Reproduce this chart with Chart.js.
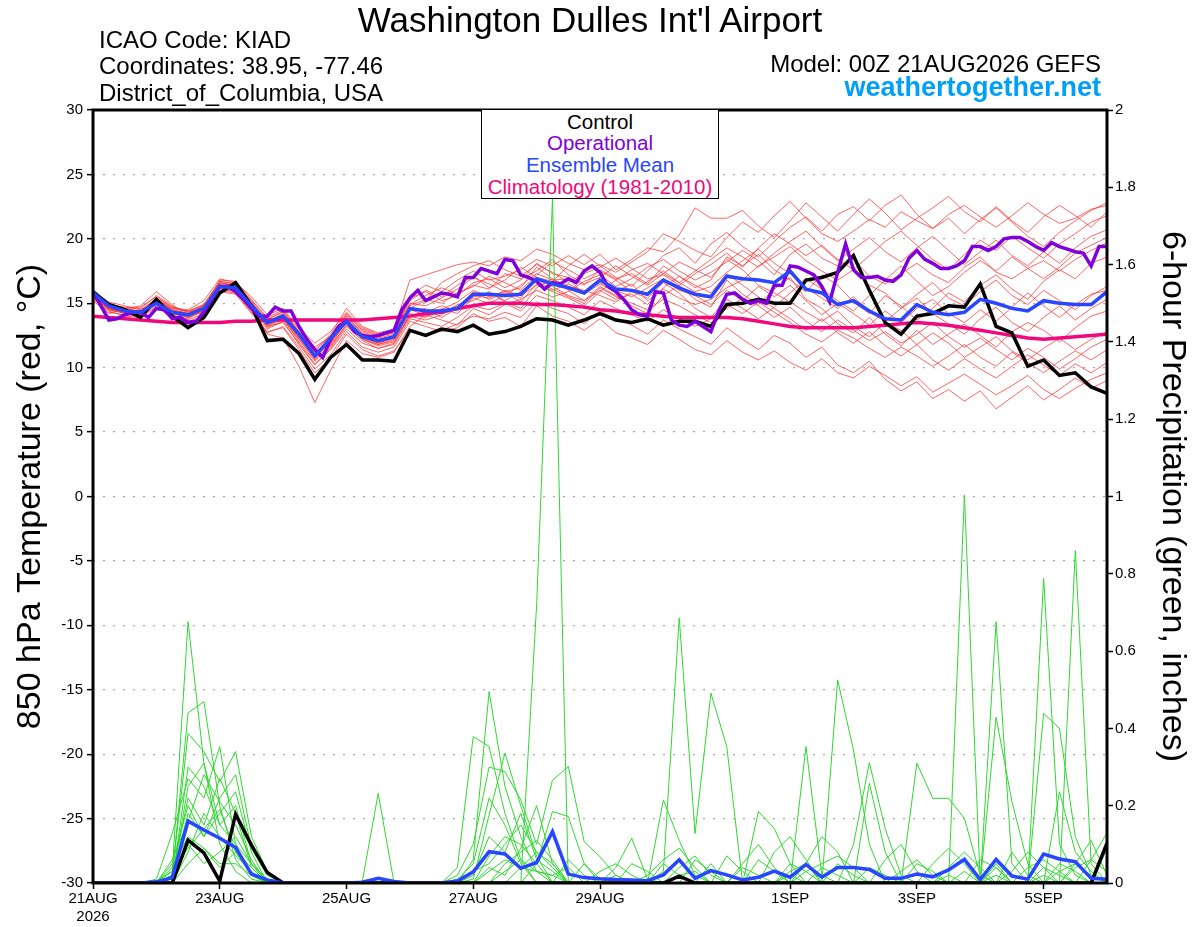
<!DOCTYPE html>
<html>
<head>
<meta charset="utf-8">
<title>KIAD GEFS plume</title>
<script src="https://cdn.jsdelivr.net/npm/chart.js@4.4.1/dist/chart.umd.min.js"></script>
<style>
  body { margin: 0; background: #fff; }
  #wrap { position: relative; width: 1200px; height: 927px; overflow: hidden; }
  #chart { position: absolute; left: 0; top: 0; }
  .txt { position: absolute; white-space: nowrap; line-height: 1;
         font-family: 'Liberation Sans', Arial, Helvetica, sans-serif; color: #000; }
  #legendBox { position: absolute; left: 481px; top: 109px; width: 238px; height: 90px;
               box-sizing: border-box; border: 1.5px solid #000; background: #fff; }
  .leg { left: 481px; width: 238px; text-align: center; font-size: 20.5px; }
  .info { left: 99px; font-size: 24px; }
</style>
</head>
<body>
<div id="wrap">
  <canvas id="chart" width="1200" height="927"></canvas>

  <div class="txt" style="left:0; width:1180px; text-align:center; top:1.5px; font-size:35px;">Washington Dulles Int'l Airport</div>
  <div class="txt info" style="top:27.5px;">ICAO Code: KIAD</div>
  <div class="txt info" style="top:54px;">Coordinates: 38.95, -77.46</div>
  <div class="txt info" style="top:80.5px;">District_of_Columbia, USA</div>
  <div class="txt" style="right:99px; top:52px; font-size:24px;">Model: 00Z 21AUG2026 GEFS</div>
  <div class="txt" style="right:99px; top:74px; font-size:27px; font-weight:bold; color:#00a0f8;">weathertogether.net</div>

  <div id="legendBox"></div>
  <div class="txt leg" style="top:111.5px; color:#000;">Control</div>
  <div class="txt leg" style="top:132.5px; color:#8000dc;">Operational</div>
  <div class="txt leg" style="top:154.5px; color:#2845ff;">Ensemble Mean</div>
  <div class="txt leg" style="top:176.5px; color:#f0087c;">Climatology (1981-2010)</div>
</div>

<script>
'use strict';

// ── x axis: forecast hours from 00Z 21AUG2026 ────────────────────────────
var xTickHours  = [0, 48, 96, 144, 192, 264, 312, 360];
var xTickLabels = [['21AUG', '2026'], '23AUG', '25AUG', '27AUG', '29AUG', '1SEP', '3SEP', '5SEP'];

// ── 850 hPa temperature (°C), 6-hourly unless noted ──────────────────────
var ctrlTemp = [
  15.9, 14.9, 14.5, 13.9, 15.3, 14.0, 13.1, 13.9,
  15.8, 16.6, 14.8, 12.1, 12.2, 11.1,  9.1, 10.8,
  11.8, 10.6, 10.6, 10.5, 12.9, 12.5, 13.0, 12.8,
  13.3, 12.6, 12.8, 13.2, 13.8, 13.7, 13.3, 13.7,
  14.2, 13.7, 13.5, 13.8, 13.3, 13.6, 13.6, 13.2,
  14.9, 15.0, 15.3, 15.0, 15.0, 16.8, 17.0, 17.4,
  18.7, 16.0, 13.5, 12.6, 14.0, 14.2, 14.8, 14.7,
  16.5, 13.2, 12.7, 10.1, 10.6,  9.4,  9.6,  8.5,
   8.0
];

var meanTemp = [
  15.8, 14.8, 14.4, 14.3, 15.0, 14.3, 14.1, 14.6,
  16.3, 16.2, 14.8, 13.5, 14.0, 12.6, 10.9, 12.3,
  13.6, 12.4, 12.1, 12.4, 14.6, 14.4, 14.4, 14.6,
  15.7, 15.7, 15.6, 15.7, 16.9, 16.5, 16.2, 15.8,
  16.8, 16.1, 16.0, 15.7, 16.8, 16.2, 15.7, 15.5,
  17.1, 16.9, 16.8, 16.6, 17.5, 16.1, 15.8, 14.9,
  15.2, 14.4, 13.8, 13.7, 14.9, 14.3, 14.1, 14.3,
  15.3, 15.0, 14.6, 14.4, 15.2, 15.0, 14.9, 14.9,
  15.9
];

// operational run is 3-hourly
var opTemp = [
  15.9, 14.8, 13.7, 13.8, 14.1, 14.3, 14.3, 13.9,
  14.6, 14.5, 13.8, 13.9, 13.5, 13.6, 14.3, 15.3,
  16.3, 16.3, 15.9, 15.3, 14.6, 14.0, 14.0, 14.7,
  14.4, 14.4, 13.2, 12.2, 11.4, 10.8, 12.2, 13.2,
  13.6, 12.8, 12.5, 12.4, 12.5, 12.7, 12.9, 14.5,
  15.4, 16.0, 15.2, 15.5, 15.8, 15.7, 15.5, 17.0,
  17.0, 17.7, 17.5, 17.3, 18.4, 18.3, 17.2, 17.0,
  16.7, 16.1, 16.6, 16.5, 16.9, 16.6, 17.5, 17.9,
  17.4, 16.3, 15.9, 15.3, 14.5, 14.1, 14.0, 15.9,
  15.8, 13.7, 13.3, 13.2, 13.6, 13.2, 12.8, 14.4,
  15.7, 15.8, 15.3, 15.0, 15.2, 15.0, 16.4, 16.4,
  17.9, 17.8, 17.5, 17.2, 16.3, 15.1, 17.4, 19.6,
  17.6, 17.0, 17.0, 17.1, 16.8, 16.7, 17.2, 18.5,
  19.1, 18.4, 18.1, 17.7, 17.7, 17.9, 18.3, 19.4,
  19.4, 19.1, 19.4, 20.0, 20.1, 20.1, 19.8, 19.4,
  19.1, 19.7, 19.4, 19.2, 19.0, 18.9, 17.9, 19.4,
  19.4
];

var climTemp = [
  14.0, 13.9, 13.8, 13.7, 13.6, 13.5, 13.5, 13.5,
  13.5, 13.6, 13.6, 13.7, 13.7, 13.7, 13.7, 13.7,
  13.7, 13.7, 13.8, 13.9, 14.0, 14.2, 14.3, 14.6,
  14.8, 15.0, 15.0, 15.0, 14.9, 14.9, 14.8, 14.7,
  14.5, 14.4, 14.2, 14.1, 14.0, 13.9, 13.9, 13.9,
  13.9, 13.8, 13.6, 13.4, 13.2, 13.1, 13.1, 13.1,
  13.1, 13.2, 13.3, 13.4, 13.5, 13.4, 13.3, 13.1,
  12.9, 12.7, 12.5, 12.3, 12.2, 12.3, 12.4, 12.5,
  12.6
];

// ensemble members, temperature
var tempMem01 = [
  15.8, 14.9, 14.7, 14.6, 15.6, 14.8, 14.3, 14.9,
  16.7, 16.5, 15.2, 13.9, 14.5, 12.8, 11.4, 12.6,
  14.6, 13.2, 12.7, 13.0, 16.8, 17.2, 17.6, 18.0,
  18.2, 17.9, 18.6, 18.3, 19.2, 18.8, 18.1, 17.6,
  18.0, 17.4, 18.2, 19.0, 20.4, 19.8, 19.1, 18.6,
  20.1, 21.3, 20.5, 21.8, 22.9, 21.6, 20.4, 19.8,
  20.6, 21.5, 20.9, 22.1, 21.4, 20.8, 21.9, 22.6,
  21.7, 20.9, 21.8, 22.8, 21.9, 21.2, 21.6, 22.3,
  22.6
];
var tempMem02 = [
  15.4, 14.3, 14.1, 14.0, 14.8, 14.1, 13.7, 14.2,
  16.0, 15.8, 14.4, 12.7, 13.2, 11.6,  9.9, 11.0,
  12.8, 11.6, 11.2, 11.6, 13.6, 13.2, 12.8, 13.1,
  14.2, 13.6, 13.9, 13.2, 14.8, 14.0, 13.6, 12.9,
  13.8, 12.7, 12.3, 11.8, 12.9, 12.2, 11.4, 11.0,
  12.1, 11.2, 10.6, 11.3, 10.4,  9.8, 10.7,  9.6,
   9.2, 10.1,  9.4,  8.6,  9.3,  8.1,  8.8,  9.5,
   8.7,  7.9,  8.6,  9.4,  8.3,  7.6,  8.4,  9.1,
   9.6
];
var tempMem03 = [
  15.9, 15.1, 14.8, 14.5, 15.0, 14.6, 14.5, 15.2,
  16.9, 16.6, 15.5, 14.1, 14.6, 13.0, 11.9, 12.8,
  14.3, 13.1, 12.6, 12.9, 15.4, 15.9, 15.2, 15.6,
  16.6, 16.9, 16.2, 16.8, 18.1, 17.3, 17.0, 16.4,
  17.6, 16.9, 17.3, 16.5, 17.9, 17.1, 16.2, 16.8,
  18.6, 17.9, 18.8, 17.6, 16.8, 15.9, 17.2, 16.4,
  15.1, 14.2, 15.6, 14.8, 13.7, 14.6, 15.8, 15.1,
  16.4, 17.2, 16.1, 15.3, 16.7, 17.6, 16.9, 18.1,
  18.6
];
var tempMem04 = [
  15.2, 14.2, 14.6, 14.8, 15.9, 14.9, 14.0, 14.3,
  16.1, 15.9, 14.3, 13.0, 13.6, 11.8, 10.2, 11.5,
  13.2, 12.1, 11.5, 11.9, 14.0, 13.7, 14.1, 14.9,
  15.2, 15.9, 15.1, 14.6, 16.2, 16.9, 16.0, 15.2,
  16.3, 15.6, 14.8, 14.2, 15.6, 16.4, 15.3, 14.7,
  16.8, 15.7, 14.9, 16.1, 17.0, 15.3, 14.6, 13.4,
  12.7, 13.9, 12.6, 11.7, 12.9, 11.8, 12.6, 13.4,
  12.5, 11.6, 12.8, 13.5, 12.9, 12.0, 13.1, 14.0,
  14.4
];
var tempMem05 = [
  15.7, 14.5, 14.2, 14.1, 15.1, 14.2, 13.9, 14.4,
  16.5, 16.0, 14.6, 12.6, 12.3, 10.1,  7.3,  9.8,
  12.1, 11.1, 10.8, 11.2, 13.2, 14.1, 13.7, 13.3,
  14.6, 14.1, 14.9, 15.3, 16.0, 15.5, 15.9, 16.7,
  17.2, 16.3, 16.9, 17.8, 18.4, 17.5, 16.8, 17.4,
  18.2, 19.1, 18.3, 17.2, 18.8, 19.6, 18.5, 17.9,
  18.4, 17.1, 16.5, 17.3, 18.1, 17.2, 16.6, 17.8,
  18.6, 17.4, 16.9, 17.7, 18.3, 17.5, 18.4, 19.1,
  19.7
];
var tempMem06 = [
  16.0, 14.8, 14.4, 14.2, 15.4, 14.5, 14.2, 14.7,
  16.6, 16.4, 15.1, 13.5, 14.0, 12.5, 11.2, 12.2,
  13.9, 12.8, 12.3, 12.6, 14.9, 15.6, 16.2, 15.7,
  16.4, 16.1, 17.3, 16.9, 17.5, 18.4, 17.2, 16.5,
  17.0, 17.9, 17.1, 16.4, 17.3, 18.2, 17.6, 17.0,
  18.4, 17.6, 16.4, 15.8, 15.1, 14.3, 13.6, 14.4,
  13.2, 12.4, 13.5, 12.9, 11.8, 12.7, 11.9, 10.8,
  11.6, 12.4, 11.3, 10.6, 11.5, 12.3, 11.4, 12.2,
  12.8
];
var tempMem07 = [
  15.5, 14.6, 14.3, 14.4, 14.9, 14.0, 13.8, 14.5,
  16.3, 16.3, 14.8, 13.3, 13.8, 12.0, 10.5, 11.6,
  13.4, 12.3, 11.8, 12.2, 14.2, 13.9, 14.6, 14.2,
  15.4, 15.0, 15.6, 16.4, 17.3, 16.8, 16.9, 15.7,
  16.5, 15.9, 16.5, 15.2, 16.1, 15.4, 14.9, 15.3,
  16.2, 16.8, 17.9, 18.6, 19.4, 18.3, 17.5, 16.8,
  17.6, 16.4, 15.8, 14.6, 15.7, 16.6, 15.4, 14.8,
  15.9, 16.8, 15.6, 14.9, 16.0, 15.2, 14.5, 15.6,
  16.3
];
var tempMem08 = [
  15.6, 14.7, 14.5, 14.2, 15.3, 14.6, 14.4, 14.8,
  16.2, 16.1, 15.0, 13.6, 14.2, 12.6, 11.0, 12.1,
  13.8, 12.7, 12.2, 12.4, 15.6, 16.4, 15.9, 16.8,
  17.5, 16.8, 17.1, 17.6, 18.4, 17.9, 18.7, 18.0,
  18.8, 17.6, 18.4, 19.3, 19.0, 20.3, 22.4, 21.6,
  21.6, 22.2, 21.0, 20.1, 21.4, 22.8, 21.7, 20.6,
  21.9, 23.1, 22.0, 20.7, 21.6, 22.4, 23.3, 22.1,
  21.3, 22.5, 21.4, 20.5, 21.7, 22.6, 21.8, 20.9,
  22.1
];
var tempMem09 = [
  15.3, 14.4, 14.0, 13.9, 14.7, 13.9, 13.6, 14.0,
  15.9, 15.7, 14.2, 12.8, 13.1, 11.4,  9.6, 10.7,
  12.6, 11.4, 10.9, 11.3, 12.9, 12.5, 12.9, 13.4,
  14.0, 13.8, 14.3, 13.9, 15.1, 14.6, 14.2, 13.4,
  14.4, 13.8, 13.3, 12.6, 13.7, 13.0, 12.4, 11.8,
  13.1, 12.2, 11.4, 12.5, 11.9, 10.8, 11.6, 10.2,
   9.6, 10.5,  9.1,  8.2,  8.9,  7.6,  8.3,  7.4,
   8.2,  6.8,  7.7,  8.6,  7.5,  8.3,  9.2,  8.4,
   9.0
];
var tempMem10 = [
  15.8, 14.9, 14.6, 14.3, 15.0, 14.3, 14.0, 14.6,
  16.8, 16.7, 15.3, 13.8, 14.3, 12.8, 11.6, 12.4,
  14.1, 12.9, 12.4, 12.7, 15.0, 14.8, 15.4, 16.1,
  17.0, 16.5, 15.9, 16.2, 17.8, 16.9, 16.3, 16.0,
  15.6, 15.1, 15.9, 15.4, 16.6, 15.8, 14.6, 13.9,
  15.3, 14.6, 13.8, 14.7, 15.8, 16.9, 16.1, 15.2,
  14.4, 15.6, 16.8, 17.9, 16.7, 15.6, 16.3, 17.4,
  18.3, 17.5, 18.6, 17.7, 16.9, 17.8, 18.9, 19.5,
  20.1
];
var tempMem11 = [
  15.6, 14.6, 14.5, 14.7, 15.5, 14.7, 14.3, 14.7,
  16.4, 16.2, 14.7, 13.1, 13.7, 12.2, 10.6, 11.8,
  13.6, 12.4, 11.9, 12.3, 14.4, 14.6, 13.9, 14.6,
  15.9, 15.3, 15.8, 15.1, 16.5, 15.9, 15.4, 14.8,
  15.9, 16.8, 15.9, 16.7, 17.5, 16.6, 15.9, 16.3,
  17.4, 18.3, 19.2, 18.1, 17.3, 16.2, 15.4, 14.6,
  15.5, 14.3, 13.6, 14.6, 15.4, 14.2, 13.4, 12.6,
  13.8, 14.7, 13.5, 12.8, 13.9, 14.8, 13.7, 14.6,
  15.3
];
var tempMem12 = [
  15.7, 14.7, 14.3, 14.5, 15.3, 14.4, 14.1, 14.6,
  16.5, 16.4, 14.9, 13.5, 14.1, 12.4, 11.1, 12.2,
  14.0, 12.6, 12.1, 12.5, 14.6, 15.2, 16.6, 17.3,
  17.9, 18.3, 17.6, 17.1, 18.0, 17.4, 16.6, 17.3,
  17.8, 18.5, 17.7, 16.9, 17.2, 16.4, 17.3, 18.0,
  18.9, 17.8, 19.3, 20.4, 19.6, 18.7, 19.5, 18.4,
  17.6, 18.7, 19.8, 20.6, 19.5, 18.4, 17.6, 18.8,
  19.9, 19.1, 20.2, 19.3, 18.5, 19.6, 20.4, 21.3,
  21.8
];
var tempMem13 = [
  15.4, 14.5, 14.4, 14.1, 15.2, 14.4, 14.2, 14.5,
  16.3, 15.9, 14.5, 13.2, 13.5, 11.9, 10.3, 11.4,
  13.0, 11.9, 11.5, 11.8, 13.8, 13.5, 13.2, 13.9,
  14.8, 14.5, 15.0, 14.4, 15.6, 15.2, 14.7, 14.1,
  15.2, 14.6, 14.1, 13.6, 14.5, 13.8, 13.2, 13.8,
  14.9, 14.2, 15.1, 14.3, 13.5, 12.6, 12.0, 12.9,
  12.3, 11.5, 10.8, 11.6, 10.9, 10.1, 10.9, 11.8,
  10.8, 10.1, 11.2, 10.4,  9.6, 10.5, 11.3, 10.6,
  11.4
];
var tempMem14 = [
  15.9, 14.8, 14.6, 14.4, 15.4, 14.7, 14.4, 14.9,
  16.7, 16.5, 15.1, 13.7, 14.4, 12.7, 11.3, 12.5,
  14.2, 13.0, 12.5, 12.8, 15.2, 16.0, 15.5, 16.4,
  17.1, 16.2, 16.8, 17.8, 17.0, 16.7, 17.9, 18.8,
  17.9, 17.0, 16.3, 17.5, 18.7, 19.3, 18.1, 19.6,
  20.5, 19.4, 18.6, 19.8, 20.9, 21.7, 20.6, 21.9,
  22.5, 21.4, 22.6, 23.4, 21.9, 20.8, 21.6, 20.4,
  21.5, 22.4, 21.3, 20.2, 19.4, 20.5, 21.4, 22.2,
  22.8
];
var tempMem15 = [
  15.6, 14.6, 14.2, 14.0, 15.1, 14.3, 14.0, 14.7,
  16.4, 16.0, 14.6, 13.2, 13.9, 12.3, 10.8, 11.9,
  13.5, 12.2, 11.8, 12.1, 14.0, 14.3, 14.8, 14.4,
  15.5, 15.8, 15.2, 15.9, 16.7, 16.1, 15.5, 15.0,
  16.2, 15.5, 15.0, 14.5, 15.3, 14.8, 14.1, 13.5,
  14.6, 15.4, 14.8, 13.9, 14.7, 13.6, 12.8, 13.7,
  12.9, 12.1, 12.8, 11.9, 12.6, 13.5, 12.4, 11.6,
  12.3, 11.4, 10.6, 11.5, 10.8,  9.9, 10.7, 11.6,
  12.2
];
var tempMem16 = [
  15.8, 14.8, 14.5, 14.4, 15.2, 14.5, 14.2, 14.8,
  16.6, 16.3, 15.0, 13.6, 14.1, 12.6, 11.0, 12.0,
  13.7, 12.5, 12.0, 12.4, 14.8, 15.3, 15.0, 15.8,
  16.3, 17.1, 16.6, 16.0, 17.2, 18.2, 17.6, 16.9,
  17.5, 16.8, 17.6, 18.1, 17.3, 16.6, 17.5, 18.4,
  19.3, 18.6, 17.8, 18.9, 19.8, 20.6, 19.4, 18.3,
  19.2, 20.1, 19.0, 18.2, 19.3, 20.2, 19.1, 18.0,
  19.0, 19.9, 18.7, 17.9, 19.0, 18.1, 19.3, 20.2,
  20.7
];
var tempMem17 = [
  15.5, 14.5, 14.3, 14.3, 15.0, 14.2, 13.9, 14.4,
  16.2, 16.1, 14.7, 13.3, 13.8, 12.2, 10.7, 11.7,
  13.3, 12.2, 11.7, 12.0, 14.1, 14.0, 14.3, 14.8,
  15.6, 15.4, 16.0, 15.6, 16.4, 16.0, 16.5, 15.9,
  16.6, 16.0, 15.5, 16.2, 16.9, 16.0, 15.6, 14.9,
  16.0, 15.2, 16.3, 15.5, 16.4, 15.2, 14.1, 15.0,
  14.2, 13.3, 14.4, 13.5, 14.6, 15.3, 14.2, 13.5,
  14.5, 13.6, 14.7, 15.8, 14.8, 13.9, 14.9, 15.7,
  16.0
];
var tempMem18 = [
  15.7, 14.7, 14.4, 14.2, 15.2, 14.4, 14.1, 14.6,
  16.4, 16.2, 14.8, 13.4, 13.9, 12.4, 10.9, 12.0,
  13.6, 12.4, 11.9, 12.3, 14.5, 14.1, 14.5, 15.1,
  16.0, 15.5, 15.9, 15.4, 16.9, 16.3, 15.6, 15.2,
  16.0, 15.3, 15.7, 14.9, 16.2, 17.1, 16.4, 15.8,
  17.3, 16.4, 15.5, 14.6, 13.8, 12.9, 13.8, 12.7,
  11.9, 12.8, 11.7, 10.9, 11.8, 10.6,  9.8, 10.7,
   9.9,  9.2, 10.1, 11.0, 10.2,  9.4, 10.3,  9.6,
  10.4
];

// ── 6-hour precipitation (inches) ────────────────────────────────────────
var ctrlPrecip = [
  0, 0, 0, 0, 0, 0, 0.111, 0.078,
  0.005, 0.178, 0.098, 0.027, 0, 0, 0, 0,
  0, 0, 0, 0, 0, 0, 0, 0,
  0, 0, 0, 0, 0, 0, 0, 0,
  0, 0, 0, 0, 0, 0.018, 0, 0,
  0, 0, 0, 0, 0, 0, 0, 0,
  0, 0, 0, 0, 0, 0, 0, 0,
  0, 0, 0, 0, 0, 0, 0, 0,
  0.103
];

var meanPrecip = [
  0, 0, 0, 0, 0.003, 0.014, 0.160, 0.137,
  0.116, 0.092, 0.023, 0.008, 0, 0, 0, 0,
  0, 0.002, 0.012, 0.004, 0, 0, 0, 0.005,
  0.029, 0.081, 0.075, 0.038, 0.053, 0.133, 0.023, 0.014,
  0.011, 0.009, 0.008, 0.006, 0.021, 0.060, 0.012, 0.032,
  0.021, 0.008, 0.015, 0.031, 0.015, 0.048, 0.015, 0.040,
  0.040, 0.035, 0.012, 0.012, 0.023, 0.016, 0.034, 0.061,
  0.009, 0.061, 0.018, 0.010, 0.075, 0.062, 0.055, 0.012,
  0.010
];

// ensemble members, precipitation
var precMem01 = [
  0, 0, 0, 0, 0, 0.03, 0.676, 0.31,
  0.10, 0.03, 0, 0, 0, 0, 0, 0,
  0, 0, 0, 0, 0, 0, 0, 0,
  0, 0, 0, 0, 0.72, 1.77, 0, 0,
  0, 0, 0, 0, 0, 0.02, 0.03, 0,
  0, 0, 0, 0, 0.02, 0, 0, 0,
  0, 0, 0, 0, 0.05, 0.03, 0, 0,
  0, 0, 0, 0, 0.04, 0.02, 0, 0,
  0
];
var precMem02 = [
  0, 0, 0, 0, 0, 0.02, 0.44, 0.469,
  0.20, 0.06, 0.01, 0, 0, 0, 0, 0,
  0, 0.005, 0.232, 0, 0, 0, 0, 0,
  0.06, 0.495, 0.25, 0.12, 0.03, 0, 0, 0,
  0, 0, 0, 0, 0.03, 0.686, 0.128, 0.491,
  0.353, 0, 0, 0, 0, 0, 0, 0.05,
  0.02, 0, 0, 0, 0, 0, 0, 0,
  0, 0.04, 0, 0, 0, 0, 0, 0,
  0
];
var precMem03 = [
  0, 0, 0, 0, 0.01, 0.128, 0.27, 0.22,
  0.353, 0.10, 0.02, 0, 0, 0, 0, 0,
  0, 0, 0, 0, 0, 0, 0, 0.04,
  0.379, 0.353, 0.18, 0.06, 0, 0, 0, 0.05,
  0.01, 0, 0, 0, 0, 0, 0, 0,
  0, 0, 0.185, 0.141, 0.05, 0, 0, 0,
  0, 0, 0, 0, 0, 0, 0, 1.004,
  0, 0.05, 0, 0, 0, 0, 0.05, 0.11,
  0.02
];
var precMem04 = [
  0, 0, 0, 0, 0, 0.02, 0.387, 0.34,
  0.262, 0.34, 0.12, 0.03, 0, 0, 0, 0,
  0, 0, 0, 0, 0, 0, 0, 0,
  0.01, 0.176, 0.336, 0.20, 0.07, 0, 0, 0,
  0, 0.04, 0.116, 0.01, 0, 0, 0, 0,
  0, 0, 0, 0, 0, 0.353, 0.02, 0,
  0, 0, 0, 0, 0, 0, 0, 0,
  0, 0.676, 0.05, 0, 0, 0, 0.86, 0.05,
  0
];
var precMem05 = [
  0, 0, 0, 0, 0, 0.05, 0.20, 0.12,
  0.18, 0.236, 0.08, 0, 0, 0, 0, 0,
  0, 0, 0, 0, 0, 0, 0, 0.02,
  0.10, 0.30, 0.288, 0.215, 0.10, 0.266, 0.301, 0.107,
  0.068, 0.02, 0, 0, 0, 0, 0, 0.05,
  0, 0, 0, 0, 0, 0, 0, 0.525,
  0.344, 0.10, 0, 0, 0, 0, 0, 0,
  0, 0, 0, 0, 0.788, 0.10, 0.02, 0,
  0
];
var precMem06 = [
  0, 0, 0, 0, 0, 0, 0.30, 0.25,
  0.15, 0.10, 0.05, 0, 0, 0, 0, 0,
  0, 0, 0, 0, 0, 0, 0, 0,
  0, 0, 0, 0, 0.05, 0.185, 0.172, 0.05,
  0, 0, 0, 0, 0.215, 0.11, 0.02, 0,
  0, 0, 0, 0, 0, 0, 0, 0,
  0.10, 0.311, 0.141, 0.02, 0, 0, 0, 0,
  0, 0.429, 0.21, 0.05, 0, 0, 0, 0,
  0.09
];
var precMem07 = [
  0, 0, 0, 0, 0, 0.06, 0.16, 0.28,
  0.21, 0.15, 0.06, 0, 0, 0, 0, 0,
  0, 0, 0, 0, 0, 0, 0, 0,
  0, 0.07, 0.12, 0.10, 0.05, 0, 0, 0,
  0, 0, 0.05, 0.03, 0, 0, 0, 0,
  0, 0, 0, 0, 0, 0, 0, 0,
  0, 0.258, 0.08, 0, 0.31, 0.219, 0.219, 0.167,
  0.02, 0, 0, 0, 0.439, 0.40, 0.12, 0.02,
  0
];
var precMem08 = [
  0, 0.004, 0, 0, 0, 0, 0.10, 0.05,
  0.08, 0.12, 0.05, 0, 0, 0, 0, 0,
  0, 0, 0, 0, 0, 0, 0, 0,
  0.03, 0.05, 0.10, 0.15, 0.08, 0.05, 0, 0,
  0, 0, 0, 0, 0, 0, 0, 0,
  0.07, 0.03, 0, 0, 0, 0.05, 0.12, 0.08,
  0, 0, 0, 0, 0, 0, 0, 0,
  0, 0, 0, 0, 0, 0.236, 0.08, 0.03,
  0
];
var precMem09 = [
  0, 0, 0, 0, 0, 0.02, 0.22, 0.15,
  0.27, 0.18, 0.04, 0, 0, 0, 0, 0,
  0, 0, 0, 0, 0, 0, 0, 0,
  0, 0, 0.05, 0.08, 0.11, 0.06, 0, 0,
  0, 0, 0, 0, 0, 0, 0.06, 0.03,
  0, 0, 0, 0.08, 0.12, 0.06, 0, 0,
  0, 0, 0, 0, 0, 0, 0.04, 0.08,
  0.04, 0, 0, 0, 0, 0, 0, 0.06,
  0.13
];
var precMem10 = [
  0, 0, 0, 0, 0, 0, 0.08, 0.18,
  0.12, 0.07, 0.03, 0, 0, 0, 0, 0,
  0, 0, 0, 0, 0, 0, 0, 0.01,
  0.05, 0.22, 0.15, 0.05, 0, 0, 0.06, 0.02,
  0, 0, 0, 0, 0, 0, 0, 0,
  0, 0.04, 0.02, 0, 0, 0, 0, 0,
  0, 0, 0.06, 0.10, 0.03, 0, 0, 0,
  0, 0, 0.08, 0.02, 0, 0, 0, 0,
  0
];
var precMem11 = [
  0, 0, 0, 0, 0, 0.04, 0.12, 0.09,
  0.05, 0.05, 0.02, 0, 0, 0, 0, 0,
  0, 0, 0, 0, 0, 0, 0, 0,
  0, 0, 0, 0.04, 0.08, 0.04, 0, 0,
  0, 0, 0, 0.02, 0.06, 0.09, 0.04, 0,
  0, 0, 0, 0, 0, 0.03, 0.05, 0.07,
  0.04, 0, 0, 0, 0, 0, 0, 0,
  0.06, 0.04, 0, 0, 0, 0.05, 0.03, 0,
  0
];
var precMem12 = [
  0, 0, 0, 0, 0, 0, 0.05, 0.09,
  0.04, 0.08, 0.04, 0, 0, 0, 0, 0,
  0, 0, 0, 0, 0, 0, 0, 0,
  0, 0.03, 0.06, 0.04, 0.03, 0.02, 0, 0,
  0.03, 0.05, 0.02, 0, 0, 0, 0, 0,
  0, 0, 0, 0, 0.05, 0.03, 0, 0,
  0, 0, 0, 0, 0, 0.05, 0.09, 0.05,
  0, 0, 0, 0.04, 0.06, 0.03, 0, 0,
  0
];
var precMem13 = [
  0, 0, 0, 0, 0.005, 0.03, 0.09, 0.14,
  0.19, 0.08, 0.02, 0, 0, 0, 0, 0,
  0, 0, 0, 0, 0, 0, 0, 0,
  0.02, 0.12, 0.08, 0.18, 0.06, 0.03, 0, 0,
  0, 0, 0, 0, 0, 0.04, 0.07, 0.02,
  0, 0, 0.06, 0.03, 0, 0, 0.04, 0.02,
  0, 0, 0, 0, 0, 0, 0, 0.03,
  0, 0, 0, 0, 0.02, 0, 0.04, 0.06,
  0.03
];
var precMem14 = [
  0, 0, 0, 0, 0, 0.01, 0.25, 0.31,
  0.15, 0.20, 0.05, 0.01, 0, 0, 0, 0,
  0, 0, 0, 0, 0, 0, 0, 0,
  0, 0.04, 0.02, 0.09, 0.20, 0.05, 0, 0,
  0, 0.02, 0, 0, 0, 0, 0, 0,
  0, 0.05, 0.10, 0.04, 0, 0, 0, 0,
  0, 0.04, 0.02, 0, 0, 0, 0.02, 0,
  0, 0, 0.03, 0.08, 0.04, 0, 0, 0,
  0
];
var precMem15 = [
  0, 0, 0, 0, 0, 0.02, 0.18, 0.12,
  0.22, 0.28, 0.09, 0.02, 0, 0, 0, 0,
  0, 0, 0, 0, 0, 0, 0, 0,
  0, 0, 0.03, 0.06, 0.03, 0.02, 0.04, 0,
  0, 0, 0, 0, 0.05, 0.02, 0, 0,
  0, 0, 0, 0, 0.03, 0.05, 0, 0,
  0, 0, 0, 0.03, 0.06, 0.02, 0, 0,
  0, 0.02, 0, 0, 0, 0.03, 0.05, 0.02,
  0
];

var tempMembers = [tempMem01, tempMem02, tempMem03, tempMem04, tempMem05, tempMem06,
                   tempMem07, tempMem08, tempMem09, tempMem10, tempMem11, tempMem12,
                   tempMem13, tempMem14, tempMem15, tempMem16, tempMem17, tempMem18];
var precMembers = [precMem01, precMem02, precMem03, precMem04, precMem05,
                   precMem06, precMem07, precMem08, precMem09, precMem10,
                   precMem11, precMem12, precMem13, precMem14, precMem15];

( function () {
    if ( typeof Chart === 'undefined' ) {
        return;
    }

    var FONT = "'Liberation Sans', Arial, Helvetica, sans-serif";
    Chart.defaults.font.family = FONT;
    Chart.defaults.color = '#000';

    // values -> {x: hour, y: value}
    function series( values, stepHours ) {
        return values.map( function ( v, i ) { return { x: i * stepHours, y: v }; } );
    }

    function line( values, stepHours, color, width, axis ) {
        return {
            data:        series( values, stepHours ),
            borderColor: color,
            borderWidth: width,
            yAxisID:     axis,
            pointRadius: 0,
            tension:     0,
            fill:        false,
        };
    }

    // first dataset is drawn on top
    var datasets = [
        line( meanTemp,   6, '#2845ff', 3.5, 'y' ),
        line( opTemp,     3, '#8000dc', 3.5, 'y' ),
        line( ctrlTemp,   6, '#000000', 3.5, 'y' ),
        line( meanPrecip, 6, '#2845ff', 3.5, 'y2' ),
        line( ctrlPrecip, 6, '#000000', 3.5, 'y2' ),
        line( climTemp,   6, '#f0087c', 3.5, 'y' ),
    ];
    precMembers.forEach( function ( m ) {
        datasets.push( line( m, 6, '#2fd82f', 1, 'y2' ) );
    } );
    tempMembers.forEach( function ( m ) {
        datasets.push( line( m, 6, 'rgba(255,50,50,0.75)', 1, 'y' ) );
    } );

    /* ── frame round the plot area ─────────────────────────────────────── */
    var frame = {
        id: 'frame',
        afterDatasetsDraw: function ( chart ) {
            var a = chart.chartArea, ctx = chart.ctx;
            ctx.save();
            ctx.strokeStyle = '#000';
            ctx.lineWidth = 3;
            ctx.strokeRect( a.left, a.top, a.right - a.left, a.bottom - a.top );
            ctx.restore();
        },
    };

    var tickFont = { size: 15 };

    new Chart( document.getElementById( 'chart' ), {
        type: 'line',
        data: { datasets: datasets },
        plugins: [ frame ],
        options: {
            responsive:       false,
            animation:        false,
            devicePixelRatio: 1,
            events:           [],
            layout: { padding: { top: 110, left: 0, right: 0, bottom: 0 } },
            plugins: {
                legend:  { display: false },
                tooltip: { enabled: false },
            },
            scales: {
                x: {
                    type: 'linear', min: 0, max: 384,
                    afterFit: function ( s ) { s.height = 44; },
                    afterBuildTicks: function ( s ) {
                        s.ticks = xTickHours.map( function ( h ) { return { value: h }; } );
                    },
                    grid:   { drawOnChartArea: false, tickLength: 6, tickColor: '#000', tickWidth: 1.5 },
                    border: { display: false },
                    ticks:  {
                        autoSkip: false, maxRotation: 0, padding: 1, font: tickFont,
                        callback: function ( v, i ) { return xTickLabels[ i ]; },
                    },
                },
                y: {
                    position: 'left', min: -30, max: 30,
                    afterFit: function ( s ) { s.width = 93; },
                    ticks:  { stepSize: 5, padding: 4, font: tickFont, callback: function ( v ) { return String( v ); } },
                    grid:   { color: '#a8a8a8', lineWidth: 1.3, tickColor: '#000', tickLength: 6, tickWidth: 1.5, tickBorderDash: [] },
                    border: { display: false, dash: [ 2, 8 ] },
                    title:  { display: true, text: '850 hPa Temperature (red, °C)', font: { size: 34 }, padding: { top: 10, bottom: 0 } },
                },
                y2: {
                    position: 'right', min: 0, max: 2,
                    afterFit: function ( s ) { s.width = 93; },
                    ticks:  { stepSize: 0.2, padding: 2, font: tickFont, callback: function ( v ) { return String( +v.toFixed( 1 ) ); } },
                    grid:   { drawOnChartArea: false, tickColor: '#000', tickLength: 6, tickWidth: 1.5 },
                    border: { display: false },
                    title:  { display: true, text: '6-hour Precipitation (green, inches)', font: { size: 34 }, padding: { top: 7, bottom: 0 } },
                },
            },
        },
    } );
} )();
</script>
</body>
</html>
